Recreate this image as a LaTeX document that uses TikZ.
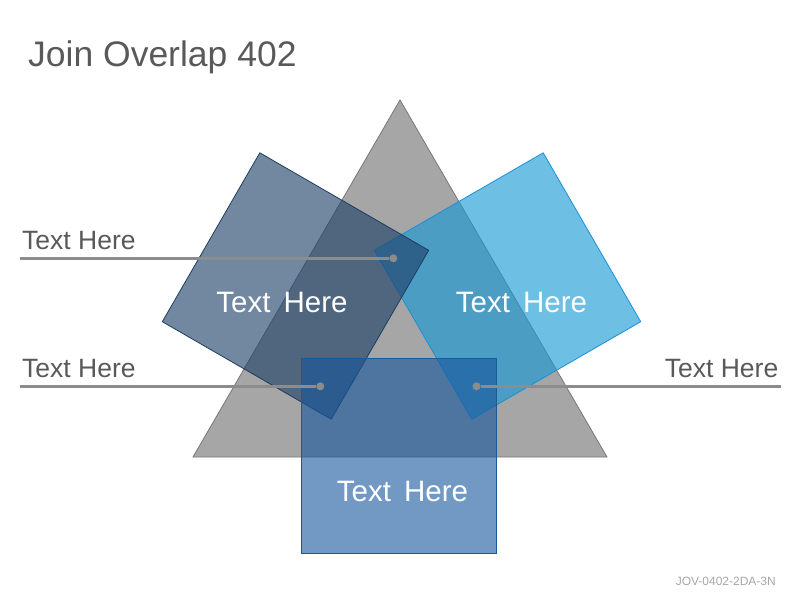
\documentclass[tikz,border=0pt]{standalone}
\usepackage{fontspec}
\setmainfont{Liberation Sans}
\usepackage{tikz}
\usetikzlibrary{positioning}
\definecolor{ink}{HTML}{595959}
\definecolor{lead}{HTML}{8C8C8C}
\definecolor{tri}{HTML}{A6A6A6}
\definecolor{trirule}{HTML}{777777}
\definecolor{slate}{RGB}{31,65,105}
\definecolor{slaterule}{HTML}{1E3D60}
\definecolor{sky}{RGB}{23,153,212}
\definecolor{skyrule}{HTML}{1B8FD8}
\definecolor{steel}{RGB}{20,85,155}
\definecolor{steelrule}{HTML}{1A5A9A}
\tikzstyle{pane}=[draw, line width=0.8pt, inner sep=0, minimum width=195pt, minimum height=195pt, fill opacity=0.63]
\tikzstyle{knob}=[circle, fill=lead, inner sep=0, minimum size=8pt]
\tikzstyle{leader}=[draw=lead, line width=2.5pt]
\tikzstyle{side}=[inner sep=0, text=ink, font=\fontsize{26.5}{30}\selectfont]
\tikzstyle{panetext}=[anchor=base, inner sep=0, text=white, font=\fontsize{29.5}{34}\selectfont]

\begin{document}
\begin{tikzpicture}[x=1pt, y=-1pt]
			\useasboundingbox (0,0) rectangle (800,600);
			\node[anchor=base west, inner sep=0, text=ink, font=\fontsize{35.5}{42}\selectfont] (0) at (28,66) {Join Overlap 402};
			\draw[fill=tri, draw=trirule, line width=0.8pt] (400,100) -- (607,457) -- (193,457) -- cycle;
			\node[pane, fill=sky, draw=skyrule, rotate=30] (2) at (507.5,286) {};
			\node[pane, fill=slate, draw=slaterule, rotate=-30] (1) at (295.5,286) {};
			\node[pane, fill=steel, draw=steelrule, fill opacity=0.6] (3) at (398.5,455.8) {};
			\node[panetext] at (282,312) {Text\ \,Here};
			\node[panetext] at (521.5,312) {Text\ \,Here};
			\node[panetext] at (402.5,501) {Text\ \,Here};
			\node[knob] (4) at (393.3,258.3) {};
			\node[knob] (5) at (320.3,386.3) {};
			\node[knob] (6) at (476.5,386.3) {};
			\coordinate (7) at (20,258.3);
			\coordinate (8) at (20,386.3);
			\coordinate (9) at (780.5,386.3);
			\draw[leader] (7) -- (4);
			\draw[leader] (8) -- (5);
			\draw[leader] (9) -- (6);
			\node[side, above right=8.5pt and 2pt of 7] {Text Here};
			\node[side, above right=8.5pt and 2pt of 8] {Text Here};
			\node[side, above left=8.5pt and 2pt of 9] {Text Here};
			\node[anchor=base east, inner sep=0, text=tri, font=\fontsize{12}{14}\selectfont] at (776,585) {JOV-0402-2DA-3N};
		\end{tikzpicture}
\end{document}
